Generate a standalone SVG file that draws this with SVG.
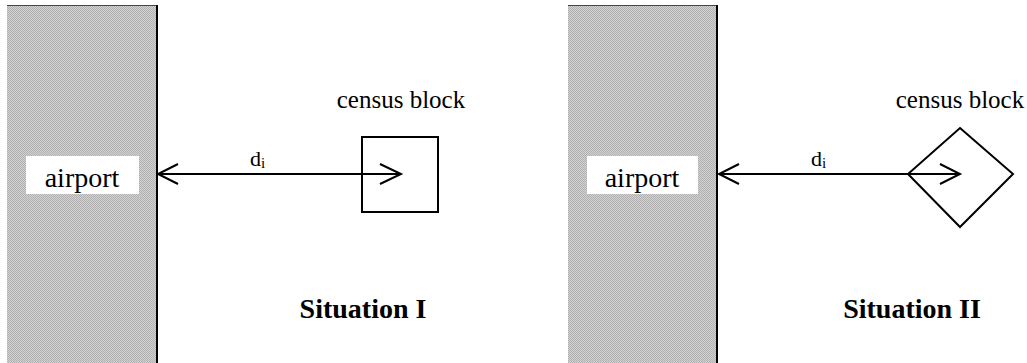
<svg xmlns="http://www.w3.org/2000/svg" width="1027" height="363" viewBox="0 0 1027 363">
<style>
.lbl{font-family:"Liberation Serif","Times New Roman",serif;fill:#000}
.big{font-size:28px}
.cb{font-size:25px}
.d{font-size:22px}
.sub{font-size:15px}
.title{font-size:28px;font-weight:bold}
.ln{stroke:#000;stroke-width:2;fill:none}
.box{fill:#fff;stroke:#000;stroke-width:2}
.lab{fill:#fff}
</style>
<defs>
<pattern id="hatch" width="2" height="2" patternUnits="userSpaceOnUse">
<rect width="2" height="2" fill="#d2d2d2"/>
<rect x="0" y="0" width="1" height="1" fill="#b0b0b0"/>
<rect x="1" y="1" width="1" height="1" fill="#b0b0b0"/>
</pattern>
</defs>
<g id="airport1">
<rect x="7" y="5" width="150" height="358" fill="url(#hatch)"/>
<line x1="7" y1="5.5" x2="157" y2="5.5" stroke="#444" stroke-width="1"/>
<line x1="157" y1="5" x2="157" y2="363" stroke="#000" stroke-width="2"/>
<rect class="lab" x="26" y="156" width="113" height="38"/>
<text class="lbl big" x="82" y="187" text-anchor="middle">airport</text>
</g>
<g id="block1">
<rect class="box" x="362" y="137" width="76" height="75"/>
<text class="lbl cb" x="401" y="108" text-anchor="middle">census block</text>
</g>
<g id="airport2">
<rect x="568" y="5" width="149" height="358" fill="url(#hatch)"/>
<line x1="568" y1="5.5" x2="717" y2="5.5" stroke="#444" stroke-width="1"/>
<line x1="717" y1="5" x2="717" y2="363" stroke="#000" stroke-width="2"/>
<rect class="lab" x="587" y="156" width="111" height="38"/>
<text class="lbl big" x="642" y="187" text-anchor="middle">airport</text>
</g>
<g id="block2">
<polygon class="box" points="960,128 1013,174 960,227 908,174"/>
<text class="lbl cb" x="960" y="108" text-anchor="middle">census block</text>
</g>
<g id="connectors">
<line class="ln" x1="158" y1="174" x2="401" y2="174"/>
<polyline class="ln" points="178,164 158,174 178,184"/>
<polyline class="ln" points="380,164 401,174 380,184"/>
<line class="ln" x1="719" y1="174" x2="960" y2="174"/>
<polyline class="ln" points="739,164 719,174 739,184"/>
<polyline class="ln" points="940,164 960,174 940,184"/>
<text class="lbl d" x="250" y="166">d<tspan class="sub" dy="2">i</tspan></text>
<text class="lbl d" x="811" y="166">d<tspan class="sub" dy="2">i</tspan></text>
</g>
<g id="titles">
<text class="lbl title" x="363" y="318" text-anchor="middle">Situation I</text>
<text class="lbl title" x="912" y="318" text-anchor="middle">Situation II</text>
</g>
</svg>
